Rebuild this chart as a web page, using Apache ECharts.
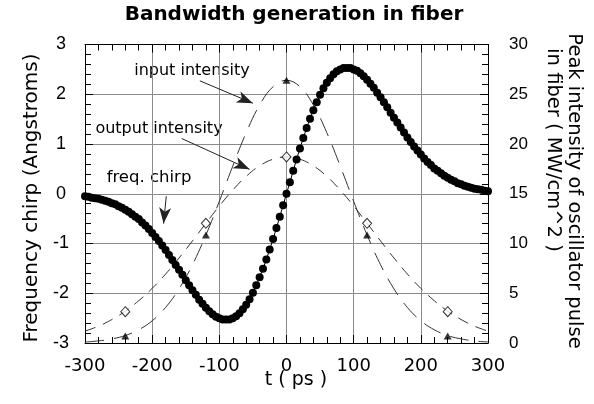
<!DOCTYPE html>
<html>
<head>
<meta charset="utf-8">
<title>Bandwidth generation in fiber</title>
<script src="https://cdn.jsdelivr.net/npm/echarts/dist/echarts.min.js"></script>
<style>
  html, body { margin: 0; padding: 0; background: #fff; }
  #chart { width: 594px; height: 404px; }
</style>
</head>
<body>
<div id="chart"></div>
<script>
/* 频率啁啾（点）：t 每 5 ps 一个点 */
const chirpT = [
  -300, -295, -290, -285, -280, -275, -270, -265, -260, -255,
  -250, -245, -240, -235, -230, -225, -220, -215, -210, -205,
  -200, -195, -190, -185, -180, -175, -170, -165, -160, -155,
  -150, -145, -140, -135, -130, -125, -120, -115, -110, -105,
  -100, -95, -90, -85, -80, -75, -70, -65, -60, -55,
  -50, -45, -40, -35, -30, -25, -20, -15, -10, -5,
  0,
  5, 10, 15, 20, 25, 30, 35, 40, 45, 50,
  55, 60, 65, 70, 75, 80, 85, 90, 95, 100,
  105, 110, 115, 120, 125, 130, 135, 140, 145, 150,
  155, 160, 165, 170, 175, 180, 185, 190, 195, 200,
  205, 210, 215, 220, 225, 230, 235, 240, 245, 250,
  255, 260, 265, 270, 275, 280, 285, 290, 295, 300
]
const chirpFreq = [
  -0.05, -0.06, -0.08, -0.09, -0.10, -0.12, -0.14, -0.16, -0.19, -0.21,
  -0.25, -0.28, -0.32, -0.36, -0.41, -0.46, -0.51, -0.58, -0.64, -0.71,
  -0.79, -0.87, -0.95, -1.04, -1.13, -1.23, -1.33, -1.43, -1.53, -1.63,
  -1.74, -1.84, -1.94, -2.03, -2.13, -2.21, -2.29, -2.36, -2.42, -2.47,
  -2.50, -2.53, -2.53, -2.53, -2.50, -2.46, -2.40, -2.32, -2.23, -2.12,
  -1.99, -1.84, -1.68, -1.51, -1.32, -1.12, -0.91, -0.69, -0.46, -0.23,
  0.00,
  0.23, 0.46, 0.69, 0.91, 1.12, 1.32, 1.51, 1.68, 1.84, 1.99,
  2.12, 2.23, 2.32, 2.40, 2.46, 2.50, 2.53, 2.53, 2.53, 2.50,
  2.47, 2.42, 2.36, 2.29, 2.21, 2.13, 2.03, 1.94, 1.84, 1.74,
  1.63, 1.53, 1.43, 1.33, 1.23, 1.13, 1.04, 0.95, 0.87, 0.79,
  0.71, 0.64, 0.58, 0.51, 0.46, 0.41, 0.36, 0.32, 0.28, 0.25,
  0.21, 0.19, 0.16, 0.14, 0.12, 0.10, 0.09, 0.08, 0.06, 0.05
]

/* 强度曲线（虚线，右轴 MW/cm^2）：t 每 20 ps 一个点 */
const intensityT = [
  -300, -280, -260, -240, -220, -200, -180, -160, -140, -120, -100, -80, -60, -40, -20,
  0, 20, 40, 60, 80, 100, 120, 140, 160, 180, 200, 220, 240, 260, 280, 300
]
const inputIntensity = [
  0.10, 0.21, 0.41, 0.75, 1.33, 2.23, 3.57, 5.44, 7.87, 10.85, 14.24, 17.78, 21.14, 23.92, 25.76,
  26.40, 25.76, 23.92, 21.14, 17.78, 14.24, 10.85, 7.87, 5.44, 3.57, 2.23, 1.33, 0.75, 0.41, 0.21, 0.10
]
const outputIntensity = [
  1.19, 1.69, 2.36, 3.20, 4.25, 5.49, 6.93, 8.54, 10.26, 12.03, 13.77, 15.37, 16.75, 17.81, 18.47,
  18.70, 18.47, 17.81, 16.75, 15.37, 13.77, 12.03, 10.26, 8.54, 6.93, 5.49, 4.25, 3.20, 2.36, 1.69, 1.19
]

/* 标记点：三角 = 输入，菱形 = 输出 */
const markT = [-240, -120, 0, 120, 240]
const inputMarks = [0.70, 10.85, 26.4, 10.85, 0.70]
const outputMarks = [3.15, 12.03, 18.7, 12.03, 3.15]

/* 文字 */
const titleText = 'Bandwidth generation in fiber'
const xName = 't ( ps )'
const yLeftName = 'Frequency chirp (Angstroms)'
const yRightName1 = 'Peak intensity of oscillator pulse'
const yRightName2 = 'in fiber ( MW/cm^2 )'

const pairs = (xs, ys) => xs.map((x, i) => [x, ys[i]])

const FONT = 'DejaVu Sans'
const AXIS_FONT = 'Liberation Sans'

// 坐标轴公共样式：刻度朝内，带次刻度
function boxAxis(extra) {
  return Object.assign({
    type: 'value',
    axisLine: { show: true, onZero: false, lineStyle: { color: '#000', width: 1 } },
    axisTick: { show: true, inside: true, length: 8, lineStyle: { color: '#000', width: 1 } },
    minorTick: { show: true, splitNumber: 5, length: 6, lineStyle: { color: '#000', width: 1 } },
    splitLine: { show: false },
    minorSplitLine: { show: false }
  }, extra)
}

const chart = echarts.init(document.getElementById('chart'), null, { renderer: 'canvas' })

chart.setOption({
  animation: false,
  backgroundColor: '#fff',
  grid: { left: 85, right: 106, top: 44.5, bottom: 61, containLabel: false },

  /* x 轴：下方带标签，上方只画刻度 */
  xAxis: [
    boxAxis({
      min: -300, max: 300, interval: 100, position: 'bottom',
      splitLine: { show: true, showMinLine: false, showMaxLine: false, lineStyle: { color: '#8a8a8a', width: 1 } },
      axisLabel: { margin: 14, fontSize: 18, fontFamily: FONT, color: '#000', showMinLabel: true, showMaxLabel: true }
    }),
    boxAxis({
      min: -300, max: 300, interval: 100, position: 'top',
      axisLabel: { show: false }
    })
  ],

  /* y 轴：左边频率啁啾，右边峰值强度 */
  yAxis: [
    boxAxis({
      min: -3, max: 3, interval: 1, position: 'left',
      splitLine: { show: true, showMinLine: false, showMaxLine: false, lineStyle: { color: '#8a8a8a', width: 1 } },
      axisLabel: { margin: 24, align: 'center', fontSize: 18, fontFamily: AXIS_FONT, color: '#000' }
    }),
    boxAxis({
      min: 0, max: 30, interval: 5, position: 'right',
      axisLabel: { margin: 21, fontSize: 17, fontFamily: AXIS_FONT, color: '#000' }
    })
  ],

  series: [
    // 输入强度（长虚线）
    {
      name: 'input intensity',
      type: 'line',
      xAxisIndex: 0,
      yAxisIndex: 1,
      smooth: 0.4,
      showSymbol: false,
      silent: true,
      lineStyle: { color: '#333', width: 1, type: [19, 10] },
      data: pairs(intensityT, inputIntensity),
      z: 2
    },
    // 输出强度（短虚线）
    {
      name: 'output intensity',
      type: 'line',
      xAxisIndex: 0,
      yAxisIndex: 1,
      smooth: 0.4,
      showSymbol: false,
      silent: true,
      lineStyle: { color: '#333', width: 1, type: [11, 8] },
      data: pairs(intensityT, outputIntensity),
      z: 2
    },
    {
      name: 'input marks',
      type: 'scatter',
      xAxisIndex: 0,
      yAxisIndex: 1,
      symbol: 'triangle',
      symbolSize: [8, 7],
      itemStyle: { color: '#000' },
      data: pairs(markT, inputMarks),
      z: 3
    },
    {
      name: 'output marks',
      type: 'scatter',
      xAxisIndex: 0,
      yAxisIndex: 1,
      symbol: 'diamond',
      symbolSize: [9, 10],
      itemStyle: { color: '#fff', borderColor: '#000', borderWidth: 1 },
      data: pairs(markT, outputMarks),
      z: 3
    },
    // 频率啁啾（实心圆点），箭头标注也挂在这里
    {
      name: 'freq. chirp',
      type: 'line',
      xAxisIndex: 0,
      yAxisIndex: 0,
      symbol: 'circle',
      symbolSize: 8,
      showSymbol: true,
      clip: false,
      itemStyle: { color: '#000' },
      lineStyle: { color: '#000', width: 1 },
      data: pairs(chirpT, chirpFreq),
      z: 4,
      markLine: {
        silent: true,
        symbol: ['none', 'arrow'],
        symbolSize: [9, 16],
        label: { show: false },
        lineStyle: { color: '#222', width: 1, type: 'solid' },
        data: [
          [{ coord: [-129, 2.27] }, { coord: [-50, 1.82] }],
          [{ coord: [-156, 1.11] }, { coord: [-55, 0.49] }],
          [{ coord: [-179, -0.05] }, { coord: [-183, -0.6] }]
        ]
      }
    }
  ],

  /* 标题、轴名、标注文字 */
  graphic: [
    {
      type: 'text', x: 294, y: 15,
      style: { text: titleText, font: 'bold 20px "DejaVu Sans"', fill: '#000', textAlign: 'center', textVerticalAlign: 'middle' }
    },
    {
      type: 'text', x: 296, y: 380,
      style: { text: xName, font: '19px "DejaVu Sans"', fill: '#000', textAlign: 'center', textVerticalAlign: 'middle' }
    },
    {
      type: 'text', x: 32, y: 198, rotation: Math.PI / 2,
      style: { text: yLeftName, font: '20px "DejaVu Sans"', fill: '#000', textAlign: 'center', textVerticalAlign: 'middle' }
    },
    {
      type: 'text', x: 574, y: 191, rotation: -Math.PI / 2,
      style: { text: yRightName1, font: '19.5px "DejaVu Sans"', fill: '#000', textAlign: 'center', textVerticalAlign: 'middle' }
    },
    {
      type: 'text', x: 553, y: 150, rotation: -Math.PI / 2,
      style: { text: yRightName2, font: '19.5px "DejaVu Sans"', fill: '#000', textAlign: 'center', textVerticalAlign: 'middle' }
    },
    {
      type: 'text', x: 192, y: 70.5,
      style: { text: 'input intensity', font: '16px "DejaVu Sans"', fill: '#000', textAlign: 'center', textVerticalAlign: 'middle' }
    },
    {
      type: 'text', x: 159, y: 129,
      style: { text: 'output intensity', font: '16px "DejaVu Sans"', fill: '#000', textAlign: 'center', textVerticalAlign: 'middle' }
    },
    {
      type: 'text', x: 149, y: 178,
      style: { text: 'freq. chirp', font: '16.5px "DejaVu Sans"', fill: '#000', textAlign: 'center', textVerticalAlign: 'middle' }
    }
  ]
})
</script>
</body>
</html>
